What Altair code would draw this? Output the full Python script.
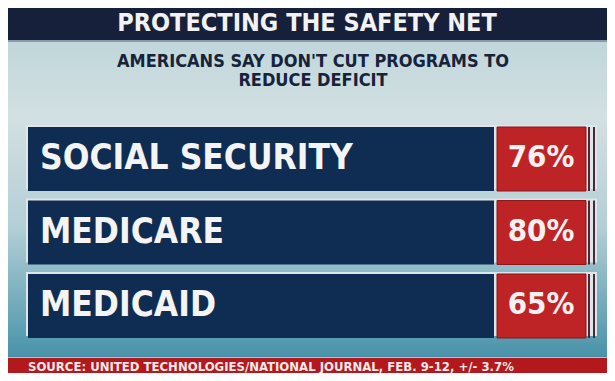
import altair as alt
import pandas as pd

categories = ["SOCIAL SECURITY", "MEDICARE", "MEDICAID"]
values = [76, 80, 65]
labels = [f"{v}%" for v in values]
title_text = "PROTECTING THE SAFETY NET"
subtitle_lines = ["AMERICANS SAY DON'T CUT PROGRAMS TO", "REDUCE DEFICIT"]
source_text = "SOURCE: UNITED TECHNOLOGIES/NATIONAL JOURNAL, FEB. 9-12, +/- 3.7%"

W, H = 599, 365
FONT = "DejaVu Sans Condensed, DejaVu Sans, sans-serif"
NAVY = "#0f2d52"
RED = "#be2326"

df = pd.DataFrame({"category": categories, "value": values, "label": labels})
one = pd.DataFrame({"a": [0]})

yscale = alt.Scale(domain=categories, range=[117, 328], paddingInner=0.129, paddingOuter=0)
ych = alt.Y("category:N", scale=yscale, axis=None, sort=categories)

bg = alt.Chart(one).mark_rect(
    color=alt.Gradient(
        gradient="linear",
        stops=[
            alt.GradientStop(offset=0.0, color="#b9d2d7"),
            alt.GradientStop(offset=0.3, color="#d2e0e2"),
            alt.GradientStop(offset=0.6, color="#b3cfd6"),
            alt.GradientStop(offset=1.0, color="#3b8ba4"),
        ],
        x1=0, x2=0, y1=0, y2=1,
    )
).encode(x=alt.value(0), x2=alt.value(W), y=alt.value(0), y2=alt.value(H))

title_bar = alt.Chart(one).mark_rect(color="#17203b").encode(
    x=alt.value(0), x2=alt.value(W), y=alt.value(0), y2=alt.value(32)
)
title_edge = alt.Chart(one).mark_rect(color="#8a98a8").encode(
    x=alt.value(0), x2=alt.value(W), y=alt.value(32), y2=alt.value(34)
)
title = alt.Chart(one).mark_text(
    text=title_text, font=FONT, fontSize=25, fontWeight="bold", color="#f2f2f2",
    align="center", baseline="alphabetic"
).encode(x=alt.value(299), y=alt.value(23))

sub1 = alt.Chart(one).mark_text(
    text=subtitle_lines[0], font=FONT, fontSize=18, fontWeight="bold", color="#16233a",
    align="center", baseline="alphabetic"
).encode(x=alt.value(305), y=alt.value(59))
sub2 = alt.Chart(one).mark_text(
    text=subtitle_lines[1], font=FONT, fontSize=18, fontWeight="bold", color="#16233a",
    align="center", baseline="alphabetic"
).encode(x=alt.value(305), y=alt.value(78))

frame = alt.Chart(df).mark_rect(color="#dfe6e9").encode(
    y=ych, x=alt.value(18), x2=alt.value(589)
)
navy = alt.Chart(df).mark_rect(color=NAVY, yOffset=2, y2Offset=-2).encode(
    y=ych, x=alt.value(20), x2=alt.value(486)
)
red = alt.Chart(df).mark_rect(color=RED, yOffset=2, y2Offset=-2, stroke="#8e1518", strokeWidth=1).encode(
    y=ych, x=alt.value(489), x2=alt.value(578)
)
line1 = alt.Chart(df).mark_rect(color="#4a2a32", yOffset=2, y2Offset=-2).encode(
    y=ych, x=alt.value(580), x2=alt.value(582)
)
line2 = alt.Chart(df).mark_rect(color="#4a2a32", yOffset=2, y2Offset=-2).encode(
    y=ych, x=alt.value(585), x2=alt.value(587)
)
cat_text = alt.Chart(df).mark_text(
    font=FONT, fontSize=35, fontWeight="bold", color="#f4f4f4",
    align="left", baseline="middle", dy=1
).encode(y=ych, x=alt.value(32), text="category:N")
pct_text = alt.Chart(df).mark_text(
    font=FONT, fontSize=31, fontWeight="bold", color="#f6f0f0",
    align="center", baseline="middle", dy=1
).encode(y=ych, x=alt.value(533), text="label:N")

src_bar = alt.Chart(one).mark_rect(color="#b3181d").encode(
    x=alt.value(0), x2=alt.value(W), y=alt.value(350), y2=alt.value(H)
)
src_edge = alt.Chart(one).mark_rect(color="#e0b0b0").encode(
    x=alt.value(0), x2=alt.value(W), y=alt.value(349), y2=alt.value(350)
)
src = alt.Chart(one).mark_text(
    text=source_text, font=FONT, fontSize=13, fontWeight="bold", color="#f4eaea",
    align="left", baseline="alphabetic"
).encode(x=alt.value(20), y=alt.value(363))

chart = alt.layer(
    bg, title_bar, title_edge, title, sub1, sub2, frame, navy, red, line1, line2,
    cat_text, pct_text, src_bar, src_edge, src
).properties(
    width=W, height=H, padding=0, autosize=alt.AutoSizeParams(type="none")
).configure_view(stroke=None, strokeWidth=0)

chart.save("out.html", embed_options={"renderer": "svg", "actions": False})
